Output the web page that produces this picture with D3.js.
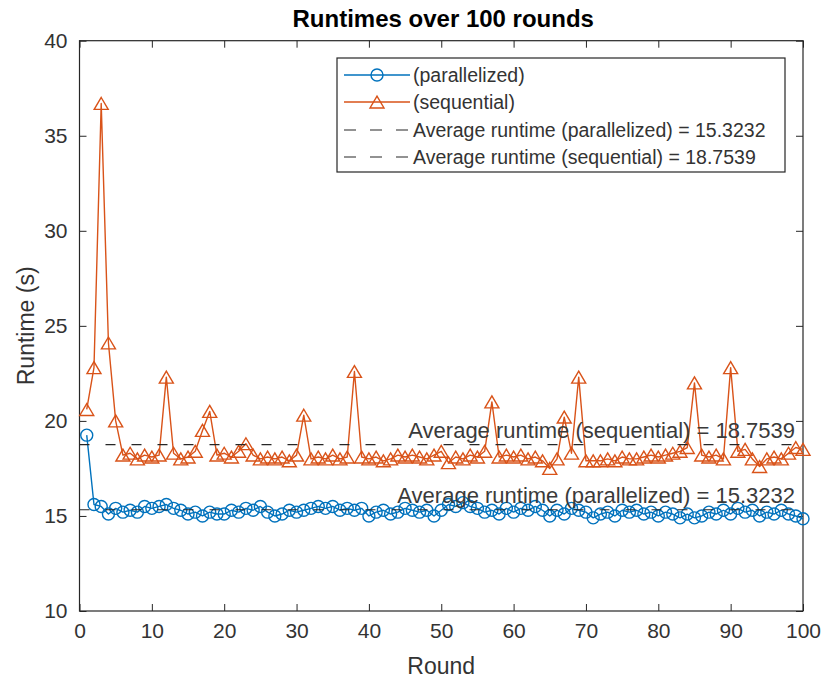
<!DOCTYPE html>
<html>
<head>
<meta charset="utf-8">
<script src="https://cdn.jsdelivr.net/npm/d3@7"></script>
<style>
  html, body { margin: 0; padding: 0; background: #fff; }
  svg { display: block; font-family: "Liberation Sans", Arial, Helvetica, sans-serif; }
</style>
</head>
<body>
<svg id="chart" width="822" height="680"></svg>
<script>
// Runtime per round, in seconds
const rounds = d3.range(1, 101);

const parallelized = [
  19.25, 15.6, 15.5, 15.1, 15.4, 15.2, 15.3, 15.2, 15.5, 15.4,
  15.5, 15.6, 15.4, 15.3, 15.1, 15.2, 15.0, 15.2, 15.1, 15.1,
  15.3, 15.2, 15.4, 15.3, 15.5, 15.2, 15.0, 15.1, 15.3, 15.2,
  15.3, 15.4, 15.5, 15.4, 15.5, 15.3, 15.4, 15.3, 15.4, 15.0,
  15.2, 15.3, 15.1, 15.2, 15.4, 15.3, 15.2, 15.3, 15.0, 15.3,
  15.6, 15.5, 15.7, 15.5, 15.4, 15.2, 15.3, 15.1, 15.4, 15.2,
  15.4, 15.3, 15.5, 15.3, 15.0, 15.3, 15.1, 15.4, 15.3, 15.2,
  14.9, 15.1, 15.2, 15.0, 15.3, 15.2, 15.3, 15.1, 15.2, 15.0,
  15.2, 15.1, 14.9, 15.1, 14.9, 15.0, 15.2, 15.1, 15.3, 15.1,
  15.4, 15.2, 15.3, 15.0, 15.2, 15.1, 15.3, 15.1, 15.0, 14.85
];

const sequential = [
  20.6, 22.8, 36.7, 24.1, 20.0, 18.2, 18.3, 18.0, 18.2, 18.1,
  18.2, 22.3, 18.3, 18.0, 18.1, 18.4, 19.5, 20.5, 18.2, 18.3,
  18.1, 18.4, 18.8, 18.2, 18.0, 18.1, 18.0, 18.1, 17.9, 18.2,
  20.3, 18.0, 18.1, 18.0, 18.2, 18.0, 18.1, 22.6, 18.1, 18.0,
  18.1, 17.9, 18.0, 18.2, 18.1, 18.2, 18.1, 18.0, 18.2, 18.4,
  17.8, 18.1, 18.0, 18.2, 18.1, 18.4, 21.0, 18.1, 18.2, 18.1,
  18.2, 18.0, 18.1, 17.9, 17.5, 18.0, 20.2, 18.3, 22.3, 17.9,
  17.9, 17.9, 18.0, 17.9, 18.1, 18.0, 18.0, 18.1, 18.2, 18.1,
  18.2, 18.3, 18.4, 18.6, 22.0, 18.2, 18.1, 18.2, 18.0, 22.8,
  18.4, 18.5, 18.0, 17.6, 18.0, 18.1, 18.0, 18.3, 18.6, 18.5
];

const seriesNames = ["(parallelized)", "(sequential)"];
const averageNames = ["Average runtime (parallelized)", "Average runtime (sequential)"];
const averages = [15.3232, 18.7539];

const xTicks = [0, 10, 20, 30, 40, 50, 60, 70, 80, 90, 100];
const yTicks = [10, 15, 20, 25, 30, 35, 40];

const titleText = "Runtimes over 100 rounds";
const xLabel = "Round";
const yLabel = "Runtime (s)";

// ---- layout & style ----
const plot = { left: 79.5, right: 803, top: 40.7, bottom: 611 };
const colors = ["#0072BD", "#D95319"];
const axisColor = "#262626";
const textColor = "#333333";
const tickLen = 7;
const markStroke = 1.4;

const svg = d3.select("#chart");

const x = d3.scaleLinear().domain([0, 100]).range([plot.left, plot.right]);
const y = d3.scaleLinear().domain([10, 40]).range([plot.bottom, plot.top]);

// ---- axes (box with ticks on all four sides, pointing inward) ----
const axes = svg.append("g");

function styleAxis(g) {
  g.select(".domain").remove();
  g.selectAll(".tick line").attr("stroke", axisColor).attr("stroke-width", 1);
  g.selectAll(".tick text").attr("fill", textColor).style("font-size", "21px");
}

axes.append("g")
  .attr("transform", `translate(0,${plot.bottom})`)
  .call(d3.axisBottom(x).tickValues(xTicks).tickSize(-tickLen).tickPadding(12))
  .call(styleAxis);

axes.append("g")
  .attr("transform", `translate(0,${plot.top})`)
  .call(d3.axisTop(x).tickValues(xTicks).tickSize(-tickLen).tickFormat(""))
  .call(styleAxis);

axes.append("g")
  .attr("transform", `translate(${plot.left},0)`)
  .call(d3.axisLeft(y).tickValues(yTicks).tickSize(-tickLen).tickPadding(12))
  .call(styleAxis);

axes.append("g")
  .attr("transform", `translate(${plot.right},0)`)
  .call(d3.axisRight(y).tickValues(yTicks).tickSize(-tickLen).tickFormat(""))
  .call(styleAxis);

axes.append("rect")
  .attr("x", plot.left).attr("y", plot.top)
  .attr("width", plot.right - plot.left).attr("height", plot.bottom - plot.top)
  .attr("fill", "none").attr("stroke", axisColor).attr("stroke-width", 1.2);

// ---- series ----
const circleSym = d3.symbol().type(d3.symbolCircle).size(Math.PI * 6 * 6);
function trianglePath(s) {
  // upward triangle centred on its bounding box
  const h = s * 0.85;
  return `M0,${-h / 2}L${s / 2},${h / 2}L${-s / 2},${h / 2}Z`;
}
const markerPaths = [circleSym(), trianglePath(14)];

const line = d3.line().x((d, i) => x(rounds[i])).y(d => y(d));
const data = [parallelized, sequential];

data.forEach((vals, k) => {
  const g = svg.append("g");
  g.append("path")
    .attr("d", line(vals))
    .attr("fill", "none")
    .attr("stroke", colors[k])
    .attr("stroke-width", markStroke)
    .attr("stroke-linejoin", "round");
  g.selectAll("path.marker")
    .data(vals)
    .join("path")
    .attr("class", "marker")
    .attr("d", markerPaths[k])
    .attr("transform", (d, i) => `translate(${x(rounds[i])},${y(d)})`)
    .attr("fill", "none")
    .attr("stroke", colors[k])
    .attr("stroke-width", markStroke);
});

// ---- average lines with labels ----
averages.forEach((v, k) => {
  svg.append("line")
    .attr("x1", plot.left).attr("x2", plot.right)
    .attr("y1", y(v)).attr("y2", y(v))
    .attr("stroke", "#262626")
    .attr("stroke-width", 1.1)
    .attr("stroke-dasharray", "10,16");
  svg.append("text")
    .attr("x", plot.right - 8)
    .attr("y", y(v) - 7)
    .attr("text-anchor", "end")
    .attr("fill", "#3a3a3a")
    .style("font-size", "22px")
    .text(`${averageNames[k]} = ${v}`);
});

// ---- title & axis labels ----
svg.append("text")
  .attr("x", (plot.left + plot.right) / 2 + 2)
  .attr("y", 27)
  .attr("text-anchor", "middle")
  .attr("fill", "#000")
  .style("font-size", "24px")
  .style("font-weight", "bold")
  .text(titleText);

svg.append("text")
  .attr("x", (plot.left + plot.right) / 2)
  .attr("y", 674)
  .attr("text-anchor", "middle")
  .attr("fill", textColor)
  .style("font-size", "23px")
  .text(xLabel);

svg.append("text")
  .attr("transform", `translate(34,${(plot.top + plot.bottom) / 2}) rotate(-90)`)
  .attr("text-anchor", "middle")
  .attr("fill", textColor)
  .style("font-size", "23px")
  .text(yLabel);

// ---- legend ----
const legend = svg.append("g");
const lg = { x: 337, y: 58, w: 448, h: 114 };
legend.append("rect")
  .attr("x", lg.x).attr("y", lg.y).attr("width", lg.w).attr("height", lg.h)
  .attr("fill", "#fff").attr("stroke", axisColor).attr("stroke-width", 1.2);

const rowY = [75, 102, 130, 157];
const entries = [
  { label: seriesNames[0], color: colors[0], marker: markerPaths[0], dashed: false },
  { label: seriesNames[1], color: colors[1], marker: markerPaths[1], dashed: false },
  { label: `${averageNames[0]} = ${averages[0]}`, color: "#262626", marker: null, dashed: true },
  { label: `${averageNames[1]} = ${averages[1]}`, color: "#262626", marker: null, dashed: true }
];
entries.forEach((e, i) => {
  const yy = rowY[i];
  legend.append("line")
    .attr("x1", lg.x + 7).attr("x2", lg.x + 73)
    .attr("y1", yy).attr("y2", yy)
    .attr("stroke", e.color)
    .attr("stroke-width", e.dashed ? 1.1 : markStroke)
    .attr("stroke-dasharray", e.dashed ? "12,14" : null);
  if (e.marker) {
    legend.append("path")
      .attr("d", e.marker)
      .attr("transform", `translate(${lg.x + 40},${yy})`)
      .attr("fill", "none").attr("stroke", e.color).attr("stroke-width", markStroke);
  }
  legend.append("text")
    .attr("x", lg.x + 76)
    .attr("y", yy + 7)
    .attr("fill", textColor)
    .style("font-size", "19.5px")
    .text(e.label);
});
</script>
</body>
</html>
